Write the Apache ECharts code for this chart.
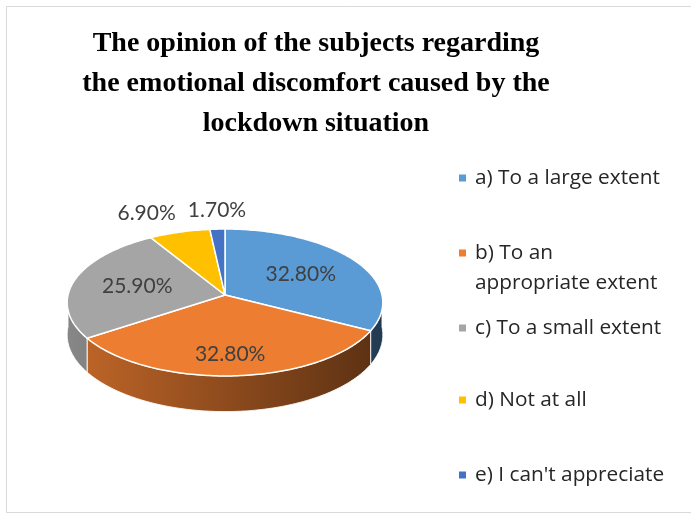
<!DOCTYPE html>
<html><head><meta charset="utf-8">
<script src="https://cdn.jsdelivr.net/npm/echarts@6/dist/echarts.min.js"></script>
<style>html,body{margin:0;padding:0;background:#fff}#c{width:691px;height:514px}</style>
</head><body><div id="c"></div>
<script>
// ---- data ----
const categories = ['a) To a large extent', 'b) To an appropriate extent', 'c) To a small extent', 'd) Not at all', "e) I can't appreciate"];
const legendLabels = ['a) To a large extent', '\nb) To an\nappropriate extent', 'c) To a small extent', 'd) Not at all', "e) I can't appreciate"];
const values = [32.8, 32.8, 25.9, 6.9, 1.7];
const colors = ['#5B9BD5', '#ED7D31', '#A5A5A5', '#FFC000', '#4472C4'];
const titleText = 'The opinion of the subjects regarding\nthe emotional discomfort caused by the\nlockdown situation';

// ---- 3D pie geometry (perspective-projected disk) ----
const CX = 225, CY = 295, RX = 157, RY = 72.7, P = 0.102, DEPTH = 32;
function proj(phi, r, h) {
  const x = r * Math.sin(phi), z = -r * Math.cos(phi);
  const w = 1 - P * z;
  return [CX + RX * x / w, CY + RY * z / w + h * DEPTH / w];
}
const total = values.reduce((a, b) => a + b, 0);
const starts = [], ends = [];
let acc = 0;
values.forEach(v => { starts.push(acc / total * 2 * Math.PI); acc += v; ends.push(acc / total * 2 * Math.PI); });
function arc(a0, a1, r, h) {
  const pts = [];
  const n = Math.max(2, Math.ceil((a1 - a0) / (Math.PI / 180)));
  for (let i = 0; i <= n; i++) pts.push(proj(a0 + (a1 - a0) * i / n, r, h));
  return pts;
}
function shade(hex, f) {
  const n = parseInt(hex.slice(1), 16);
  const r = (n >> 16) & 255, g = (n >> 8) & 255, b = n & 255;
  return 'rgb(' + Math.round(r * f) + ',' + Math.round(g * f) + ',' + Math.round(b * f) + ')';
}

// ---- labels ----
const LABEL_FONT_SIZE = 21, LABEL_FONT = 'Lato';
const mctx = document.createElement('canvas').getContext('2d');
mctx.font = LABEL_FONT_SIZE + 'px ' + LABEL_FONT;
const labelText = values.map(v => v.toFixed(2) + '%');
const labelPos = [];
const outsideIdx = [];
values.forEach((v, i) => {
  const mid = (starts[i] + ends[i]) / 2;
  if (v / total >= 0.1) {
    const p = proj(mid, 0.58, 0);
    const zf = Math.max(0, -Math.cos(mid));
    p[1] += 0.4 * DEPTH * zf / (1 - P * zf);
    labelPos[i] = p;
  } else {
    const e = proj(mid, 1, 0);
    labelPos[i] = [e[0] + 8 * Math.sin(mid), e[1] - 19];
    outsideIdx.push(i);
  }
});
outsideIdx.sort((a, b) => labelPos[b][0] - labelPos[a][0]);
for (let k = 1; k < outsideIdx.length; k++) {
  const prev = outsideIdx[k - 1], cur = outsideIdx[k];
  const prevLeft = labelPos[prev][0] - mctx.measureText(labelText[prev]).width / 2;
  const curW = mctx.measureText(labelText[cur]).width;
  if (labelPos[cur][0] + curW / 2 > prevLeft - 12) labelPos[cur][0] = prevLeft - 12 - curW / 2;
}

function buildSlice(i) {
  const children = [];
  const a0 = starts[i], a1 = ends[i];
  const s0 = Math.max(a0, Math.PI / 2), s1 = Math.min(a1, 3 * Math.PI / 2);
  if (s1 > s0) {
    const top = arc(s0, s1, 1, 0), bot = arc(s0, s1, 1, 1).reverse();
    children.push({
      type: 'polygon', z2: 1,
      shape: { points: top.concat(bot) },
      style: {
        fill: new echarts.graphic.LinearGradient(CX - RX, 0, CX + RX, 0, [
          { offset: 0, color: shade(colors[i], 0.82) },
          { offset: 0.5, color: shade(colors[i], 0.6) },
          { offset: 1, color: shade(colors[i], 0.38) }
        ], true),
        stroke: 'rgba(255,255,255,0.85)', lineWidth: 1
      }
    });
  }
  children.push({
    type: 'polygon', z2: 5,
    shape: { points: [proj(0, 0, 0)].concat(arc(a0, a1, 1, 0)) },
    style: { fill: colors[i], stroke: '#fff', lineWidth: 1.5, lineJoin: 'round' }
  });
  children.push({
    type: 'text', z2: 10, x: labelPos[i][0], y: labelPos[i][1],
    style: { text: labelText[i], fontFamily: LABEL_FONT, fontSize: LABEL_FONT_SIZE, fill: '#404040', align: 'center', verticalAlign: 'middle' }
  });
  return { type: 'group', children };
}

const legendCenters = [178, 253, 328, 400, 475];
const chart = echarts.init(document.getElementById('c'), null, { renderer: 'canvas' });
chart.setOption({
  animation: false,
  backgroundColor: '#fff',
  title: {
    text: titleText, left: 316, top: 24, textAlign: 'center', padding: 0,
    textStyle: { fontFamily: 'Liberation Serif', fontWeight: 'bold', fontSize: 28, lineHeight: 40, color: '#000' }
  },
  legend: categories.map((c, i) => ({
    data: [c], left: 459,
    top: i === 1 ? legendCenters[i] - 45 : legendCenters[i] - 12,
    orient: 'vertical', icon: 'rect', itemWidth: 7, itemHeight: 7, padding: 0, selectedMode: false,
    formatter: () => legendLabels[i],
    textStyle: { fontFamily: 'Open Sans', fontSize: 20.8, color: '#262626', lineHeight: i === 1 ? 30 : 24, padding: [0, 0, 0, 4] }
  })),
  graphic: [{ type: 'rect', silent: true, z: -1, shape: { x: 6.5, y: 6.5, width: 720, height: 506 }, style: { fill: 'none', stroke: '#D9D9D9', lineWidth: 1 } }],
  series: categories.map((c, i) => ({
    type: 'custom', name: c, coordinateSystem: 'none', silent: true,
    itemStyle: { color: colors[i] },
    data: [values[i]],
    renderItem: () => buildSlice(i)
  }))
});
</script></body></html>
